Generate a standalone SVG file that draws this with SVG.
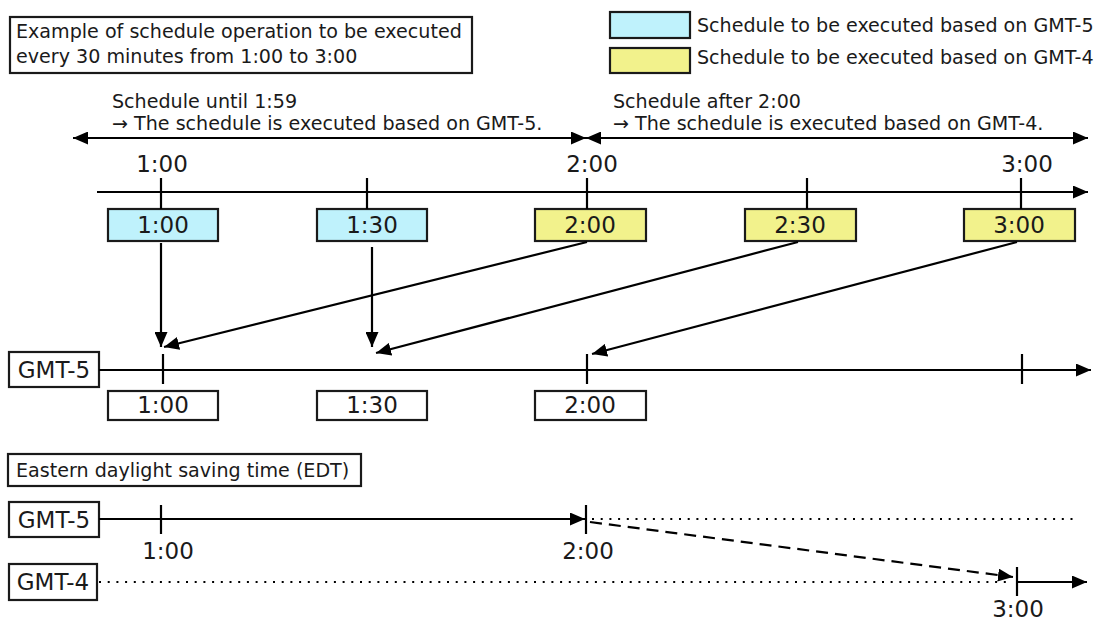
<svg xmlns="http://www.w3.org/2000/svg" width="1096" height="619" viewBox="0 0 1096 619">
<defs>
<marker id="ah" markerWidth="15" markerHeight="13" refX="15" refY="6.5" orient="auto-start-reverse" markerUnits="userSpaceOnUse"><path d="M0,0 L15,6.5 L0,13 Z" fill="#000"/></marker>
</defs>
<style>
text{font-family:"DejaVu Sans","Liberation Sans",sans-serif;fill:#1a1a1a}
.s{font-size:19.1px}
.l{font-size:23px}
.c{text-anchor:middle}
.box{fill:#fff;stroke:#1a1a1a;stroke-width:2.2}
.blue{fill:#bff2fc;stroke:#1a1a1a;stroke-width:2.2}
.yel{fill:#f2f28c;stroke:#1a1a1a;stroke-width:2.2}
.ln{stroke:#000;stroke-width:2.2;fill:none}
.dot{stroke-dasharray:2 6.7}
.dash{stroke-dasharray:12 7}
</style>
<rect width="1096" height="619" fill="#fff"/>

<g id="title">
<rect class="box" x="10" y="17" width="462" height="56"/>
<text class="s" x="16" y="38">Example of schedule operation to be executed</text>
<text class="s" x="16" y="63">every 30 minutes from 1:00 to 3:00</text>
</g>

<g id="legend">
<rect class="blue" x="610" y="12" width="80" height="26"/>
<text class="s" x="697" y="32">Schedule to be executed based on GMT-5</text>
<rect class="yel" x="610" y="48" width="80" height="25"/>
<text class="s" x="697" y="64">Schedule to be executed based on GMT-4</text>
</g>

<g id="period-labels">
<text class="s" x="112" y="108">Schedule until 1:59</text>
<text class="s" x="112" y="130">→ The schedule is executed based on GMT-5.</text>
<text class="s" x="613" y="108">Schedule after 2:00</text>
<text class="s" x="613" y="130">→ The schedule is executed based on GMT-4.</text>
</g>

<g id="top-time-labels">
<text class="l c" x="162" y="172">1:00</text>
<text class="l c" x="592" y="172">2:00</text>
<text class="l c" x="1027" y="172">3:00</text>
</g>

<g id="schedule-1-00"><rect class="blue" x="108" y="209" width="110" height="32"/><text class="l c" x="163" y="233">1:00</text></g>
<g id="schedule-1-30"><rect class="blue" x="317" y="209" width="110" height="32"/><text class="l c" x="372" y="233">1:30</text></g>
<g id="schedule-2-00"><rect class="yel" x="535" y="209" width="111" height="32"/><text class="l c" x="590" y="233">2:00</text></g>
<g id="schedule-2-30"><rect class="yel" x="745" y="209" width="111" height="32"/><text class="l c" x="800" y="233">2:30</text></g>
<g id="schedule-3-00"><rect class="yel" x="964" y="209" width="111" height="32"/><text class="l c" x="1019" y="233">3:00</text></g>

<g id="gmt5-label"><rect class="box" x="9" y="352" width="90" height="35"/><text class="l c" x="54" y="378">GMT-5</text></g>

<g id="result-1-00"><rect class="box" x="108" y="391" width="110" height="29"/><text class="l c" x="163" y="413">1:00</text></g>
<g id="result-1-30"><rect class="box" x="317" y="391" width="110" height="29"/><text class="l c" x="372" y="413">1:30</text></g>
<g id="result-2-00"><rect class="box" x="535" y="391" width="111" height="29"/><text class="l c" x="590" y="413">2:00</text></g>

<g id="edt-title"><rect class="box" x="8" y="454" width="353" height="32"/><text class="s" x="16" y="477">Eastern daylight saving time (EDT)</text></g>
<g id="edt-gmt5"><rect class="box" x="9" y="502" width="90" height="35"/><text class="l c" x="54" y="528">GMT-5</text></g>
<g id="edt-gmt4"><rect class="box" x="9" y="564" width="88" height="36"/><text class="l c" x="53" y="590">GMT-4</text></g>

<g id="edt-time-labels">
<text class="l c" x="168" y="559">1:00</text>
<text class="l c" x="588" y="559">2:00</text>
<text class="l c" x="1018" y="617">3:00</text>
</g>

<g id="connectors">
<line class="ln" x1="73" y1="138" x2="586" y2="138" marker-start="url(#ah)" marker-end="url(#ah)"/>
<line class="ln" x1="586" y1="138" x2="1088" y2="138" marker-start="url(#ah)" marker-end="url(#ah)"/>
<line class="ln" x1="97" y1="192" x2="1088" y2="192" marker-end="url(#ah)"/>
<line class="ln" x1="161" y1="178" x2="161" y2="209"/>
<line class="ln" x1="367" y1="178" x2="367" y2="209"/>
<line class="ln" x1="587" y1="178" x2="587" y2="209"/>
<line class="ln" x1="807" y1="178" x2="807" y2="209"/>
<line class="ln" x1="1021" y1="178" x2="1021" y2="209"/>
<line class="ln" x1="161" y1="243" x2="161" y2="347" marker-end="url(#ah)"/>
<line class="ln" x1="372" y1="247" x2="372" y2="347" marker-end="url(#ah)"/>
<line class="ln" x1="587" y1="242" x2="164" y2="347" marker-end="url(#ah)"/>
<line class="ln" x1="798" y1="242" x2="376" y2="353" marker-end="url(#ah)"/>
<line class="ln" x1="1017" y1="242" x2="592" y2="354" marker-end="url(#ah)"/>
<line class="ln" x1="99" y1="370" x2="1091" y2="370" marker-end="url(#ah)"/>
<line class="ln" x1="163" y1="354" x2="163" y2="384"/>
<line class="ln" x1="587" y1="354" x2="587" y2="384"/>
<line class="ln" x1="1022" y1="354" x2="1022" y2="384"/>
<line class="ln" x1="99" y1="519" x2="585" y2="519" marker-end="url(#ah)"/>
<line class="ln" x1="161" y1="505" x2="161" y2="534"/>
<line class="ln" x1="586" y1="505" x2="586" y2="534"/>
<line class="ln dot" x1="592" y1="519" x2="1073" y2="519"/>
<line class="ln dot" x1="99" y1="582" x2="1008" y2="582"/>
<line class="ln dash" x1="590" y1="522" x2="1013" y2="577" marker-end="url(#ah)"/>
<line class="ln" x1="1017" y1="567" x2="1017" y2="596"/>
<line class="ln" x1="1017" y1="582" x2="1087" y2="582" marker-end="url(#ah)"/>
</g>
</svg>
